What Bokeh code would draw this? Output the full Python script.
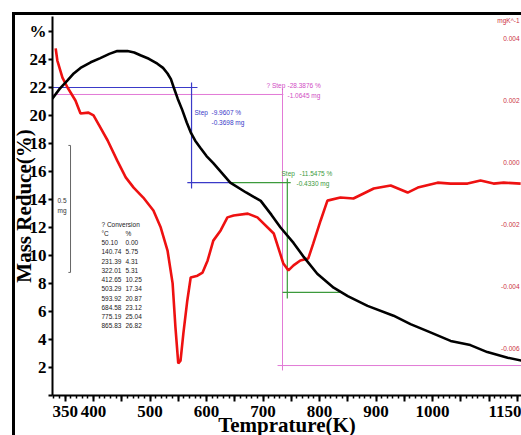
from bokeh.plotting import figure
from bokeh.models import Range1d, FixedTicker, Label
from bokeh.embed import file_html
from bokeh.resources import INLINE

# ---------------- data ----------------
tg_temp = [327, 340, 354, 365, 377, 395, 412, 428, 442, 460, 472, 483, 498, 513, 523, 531, 537, 542, 549,
           557, 565, 572, 580, 589, 600, 612, 627, 642, 670, 696, 715, 731, 754, 772, 796, 825, 850, 885,
           931, 961, 991, 1032, 1067, 1097, 1133, 1157]
tg_mass = [21.2, 21.9, 22.5, 23.0, 23.4, 23.8, 24.1, 24.4, 24.6, 24.6, 24.5, 24.3, 24.05, 23.7, 23.4, 23.0,
           22.6, 22.0, 21.2, 20.4, 19.5, 18.8, 18.2, 17.7, 17.1, 16.6, 15.9, 15.2, 14.5, 13.9, 12.9, 12.0,
           10.9, 9.9, 8.7, 7.7, 7.1, 6.4, 5.7, 5.1, 4.6, 3.9, 3.6, 3.1, 2.7, 2.5]

dtg_temp = [333, 336, 345, 354, 368, 377, 391, 400, 412, 425, 442, 457, 471, 488, 506, 519, 531, 540, 545,
            550, 554, 559, 566, 572, 584, 593, 602, 612, 625, 637, 648, 673, 690, 719, 736, 745, 754, 766,
            780, 789, 802, 814, 837, 860, 896, 926, 956, 974, 1009, 1032, 1062, 1085, 1108, 1126, 1156]
dtg_rate = [0.00368, 0.00329, 0.00274, 0.00242, 0.00200, 0.00158, 0.00161, 0.00152, 0.00113, 0.00071,
            0.00006, -0.00048, -0.00081, -0.00113, -0.00155, -0.00210, -0.00284, -0.00390, -0.00532,
            -0.00648, -0.00639, -0.00552, -0.00445, -0.00371, -0.00365, -0.00355, -0.00316, -0.00252,
            -0.00219, -0.00177, -0.00171, -0.00165, -0.00177, -0.00229, -0.00326, -0.00348, -0.00332,
            -0.00316, -0.00310, -0.00261, -0.00187, -0.00123, -0.00113, -0.00116, -0.00084, -0.00074,
            -0.00097, -0.00081, -0.00065, -0.00068, -0.00068, -0.00058, -0.00068, -0.00065, -0.00068]

# step evaluation lines (x0, x1, y0, y1)
blue_x0 = [327, 573.5, 566]
blue_x1 = [584, 573.5, 642]
blue_y0 = [22.0, 22.36, 15.21]
blue_y1 = [22.0, 14.79, 15.21]
green_x0 = [642, 743, 734.5]
green_x1 = [749, 743, 839]
green_y0 = [15.21, 15.5, 7.36]
green_y1 = [15.21, 6.93, 7.36]
pink_x0 = [327, 734.5, 725.7]
pink_x1 = [736, 734.5, 1157]
pink_y0 = [21.5, 21.93, 2.14]
pink_y1 = [21.5, 1.79, 2.14]

conv_temp_c = ["50.10", "140.74", "231.39", "322.01", "412.65", "503.29", "593.92", "684.58", "775.19", "865.83"]
conv_pct = ["0.00", "5.75", "4.31", "5.31", "10.25", "17.34", "20.87", "23.12", "25.04", "26.82"]

x_ticks = [350, 400, 450, 500, 550, 600, 650, 700, 750, 800, 850, 900, 950, 1000, 1050, 1100, 1150]
x_tick_labels = ["350", "400", "", "500", "", "600", "", "700", "", "800", "", "900", "", "1000", "", "", "1150"]
y_ticks = [0, 2, 4, 6, 8, 10, 12, 14, 16, 18, 20, 22, 24, 26]
y_tick_labels = ["", "2", "4", "6", "8", "10", "12", "14", "16", "18", "20", "22", "24", "%"]
dtg_ticks = [0.004, 0.002, 0.000, -0.002, -0.004, -0.006]
dtg_tick_labels = ["0.004", "0.002", "0.000", "-0.002", "-0.004", "-0.006"]

# ---------------- figure ----------------
p = figure(width=521, height=440, x_range=Range1d(327.4, 1157.5), y_range=Range1d(0, 27.07),
           output_backend="svg", toolbar_location=None,
           min_border_left=52, min_border_right=0, min_border_top=16, min_border_bottom=45)
p.styles = {"box-shadow": "inset 12px 12px 0px 0px #ffffff, inset 15px 15px 0px 0px #000000"}
p.extra_y_ranges = {"dtg": Range1d(-0.0075161, 0.0047097)}
p.xgrid.visible = False
p.ygrid.visible = False
p.outline_line_color = None
p.background_fill_color = "white"
p.border_fill_color = None

for ax in (p.xaxis[0], p.yaxis[0]):
    ax.axis_line_width = 2
    ax.axis_line_color = "black"
    ax.major_tick_line_width = 2
    ax.major_tick_in = 0
    ax.minor_tick_in = 0
    ax.major_label_text_font = "Liberation Serif"
    ax.major_label_text_font_style = "bold"
    ax.major_label_text_font_size = "17px"
    ax.major_label_text_color = "black"
    ax.axis_label_text_font = "Liberation Serif"
    ax.axis_label_text_font_style = "bold"
    ax.axis_label_text_font_size = "21px"
    ax.axis_label_text_color = "black"

p.xaxis.axis_label = "Temprature(K)"
p.yaxis.axis_label = "Mass Reduce(%)"

p.xaxis.ticker = FixedTicker(ticks=x_ticks, minor_ticks=list(range(330, 1160, 10)))
p.xaxis.major_label_overrides = {t: l for t, l in zip(x_ticks, x_tick_labels)}
p.xaxis.major_tick_out = 6
p.xaxis.minor_tick_out = 3
p.xaxis.minor_tick_line_width = 1.5
p.xaxis.major_label_standoff = 4
p.xaxis.axis_label_standoff = -7
p.yaxis.ticker = FixedTicker(ticks=y_ticks, minor_ticks=[])
p.yaxis.major_label_overrides = {t: l for t, l in zip(y_ticks, y_tick_labels)}
p.yaxis.major_tick_out = 4
p.yaxis.major_label_standoff = 2
p.yaxis.axis_label_standoff = -9

# ---------------- glyphs ----------------
p.segment(pink_x0, pink_y0, pink_x1, pink_y1, line_color="#e27ad6", line_width=1)
p.segment(blue_x0, blue_y0, blue_x1, blue_y1, line_color="#3a3ac8", line_width=1.2)
p.segment(green_x0, green_y0, green_x1, green_y1, line_color="#3c9a3c", line_width=1.2)

p.line(dtg_temp, dtg_rate, y_range_name="dtg", line_color="#ee1111", line_width=2.6)
p.line(tg_temp, tg_mass, line_color="black", line_width=2.6)

# 0.5 mg scale bracket
p.segment([359.3, 355.5, 355.5], [17.86, 17.86, 8.79], [359.3, 359.3, 359.3], [8.79, 17.86, 8.79],
          line_color="#666666", line_width=1)

# ---------------- annotations ----------------
FL, FB = 52, 395  # page coordinates of the frame's left / bottom edges


def lab(text, px, py, size, color, align="left", font="Liberation Sans"):
    p.add_layout(Label(x=px - FL, y=FB - py, x_units="screen", y_units="screen", text=text,
                       text_font_size=f"{size}px", text_color=color, text_align=align,
                       text_baseline="middle", text_font=font))


lab("Step", 194, 112, 6.5, "#3a3ac8")
lab("-9.9607 %", 211, 112, 6.5, "#3a3ac8")
lab("-0.3698 mg", 211, 122, 6.5, "#3a3ac8")
lab("? Step", 266, 85, 6.5, "#d04cc4")
lab("-28.3876 %", 287, 85, 6.5, "#d04cc4")
lab("-1.0645 mg", 287, 95, 6.5, "#d04cc4")
lab("Step", 281, 173, 6.5, "#3c9a3c")
lab("-11.5475 %", 299, 173, 6.5, "#3c9a3c")
lab("-0.4330 mg", 296, 183, 6.5, "#3c9a3c")

lab("0.5", 57, 200, 6.5, "#333333")
lab("mg", 57, 210, 6.5, "#333333")

lab("? Conversion", 101, 224, 6.5, "#222222")
lab("\u00b0C", 101, 233, 6.5, "#222222")
lab("%", 125, 233, 6.5, "#222222")
for i, (tc, pc) in enumerate(zip(conv_temp_c, conv_pct)):
    yy = 242 + i * 9.26
    lab(tc, 101, yy, 6.5, "#222222")
    lab(pc, 125, yy, 6.5, "#222222")

lab("mgK^-1", 519, 20, 6.5, "#cc3344", align="right")
for v, t in zip(dtg_ticks, dtg_tick_labels):
    p.add_layout(Label(x=519 - FL, y=v, x_units="screen", y_units="data", y_range_name="dtg",
                       text=t, text_font_size="6.5px", text_color="#cc3344", text_align="right",
                       text_baseline="middle", text_font="Liberation Sans"))

open("out.html", "w").write(file_html(p, INLINE))
